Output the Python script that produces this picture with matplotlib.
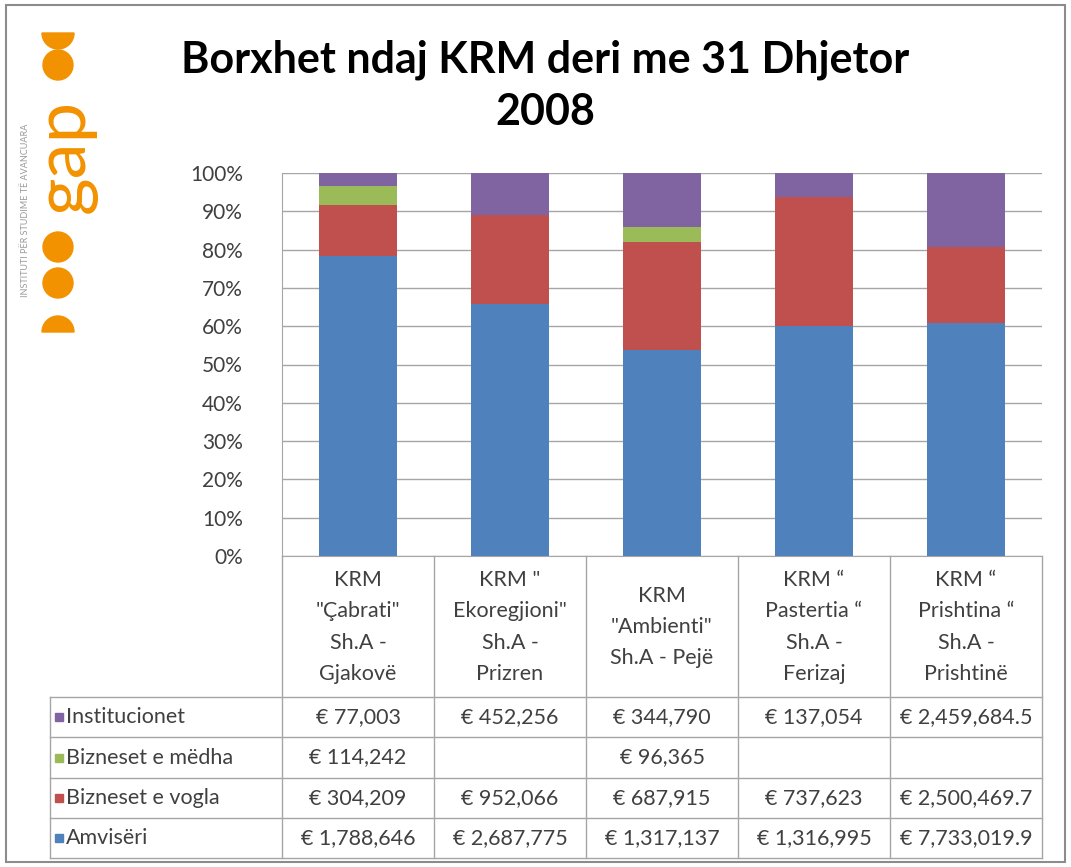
import matplotlib.pyplot as plt
from matplotlib.patches import Rectangle, Circle, Wedge
import numpy as np

# Data
companies = ['KRM\n"Çabrati"\nSh.A -\nGjakovë',
             'KRM "\nEkoregjioni"\nSh.A -\nPrizren',
             'KRM\n"Ambienti"\nSh.A - Pejë',
             'KRM “\nPastertia “\nSh.A -\nFerizaj',
             'KRM “\nPrishtina “\nSh.A -\nPrishtinë']
series = ['Amvisëri', 'Bizneset e vogla', 'Bizneset e mëdha', 'Institucionet']
amviseri = [1788646, 2687775, 1317137, 1316995, 7733019.9]
biz_vogla = [304209, 952066, 687915, 737623, 2500469.7]
biz_medha = [114242, None, 96365, None, None]
institucionet = [77003, 452256, 344790, 137054, 2459684.5]
colors = ['#4F81BD', '#C0504D', '#9BBB59', '#8064A2']

values = [amviseri, biz_vogla, biz_medha, institucionet]
arr = np.array([[v if v is not None else 0 for v in s] for s in values], dtype=float)
pct = arr / arr.sum(axis=0) * 100

W, H = 1071, 867
fig = plt.figure(figsize=(W / 100, H / 100), dpi=100)
plt.rcParams['font.family'] = ['Lato', 'DejaVu Sans']


def fx(px):
    return px / W


def fy(py):
    return 1 - py / H


# plot area
left, right, top, bottom = 282, 1042, 173, 556
ax = fig.add_axes([fx(left), fy(bottom), fx(right - left), (bottom - top) / H])
x = np.arange(len(companies))
base = np.zeros(len(companies))
for i, name in enumerate(series):
    ax.bar(x, pct[i], 0.51, bottom=base, color=colors[i], zorder=3)
    base += pct[i]
ax.set_xlim(-0.5, len(companies) - 0.5)
ax.set_ylim(0, 100)
ax.set_yticks(np.arange(0, 101, 10))
ax.set_yticklabels([f'{t}%' for t in range(0, 101, 10)], fontsize=15, color='#404040')
ax.set_xticks([])
ax.grid(axis='y', color='#A6A6A6', linewidth=1, zorder=0)
for s in ['top', 'right']:
    ax.spines[s].set_visible(False)
ax.spines['left'].set_color('#A6A6A6')
ax.spines['bottom'].set_color('#A6A6A6')
ax.tick_params(axis='y', length=0, pad=28)

# overlay in pixel coordinates for table, title, logo
ov = fig.add_axes([0, 0, 1, 1], zorder=5)
ov.set_xlim(0, W)
ov.set_ylim(H, 0)
ov.axis('off')
ov.patch.set_alpha(0)

ov.text(545, 60, 'Borxhet ndaj KRM deri me 31 Dhjetor', ha='center', va='center',
        fontsize=31, fontweight='bold', color='black')
ov.text(545, 112, '2008', ha='center', va='center',
        fontsize=31, fontweight='bold', color='black')

# outer border
ov.add_patch(Rectangle((6, 5), 1059, 857, fill=False, edgecolor='#8C8C8C', linewidth=1.5))

# data table
line_c = '#A6A6A6'
col_edges = np.linspace(left, right, len(companies) + 1)
row_edges = [697, 737, 778, 818, 858]
tcol = '#404040'
for xe in col_edges:
    ov.plot([xe, xe], [bottom, row_edges[-1]], color=line_c, lw=1)
ov.plot([50, 50], [row_edges[0], row_edges[-1]], color=line_c, lw=1)
for ye in row_edges:
    ov.plot([50, right], [ye, ye], color=line_c, lw=1)

for j, lab in enumerate(companies):
    cx = (col_edges[j] + col_edges[j + 1]) / 2
    ov.text(cx, 627, lab, ha='center', va='center', fontsize=15.5, color=tcol, linespacing=1.7)

rows = list(range(len(series)))[::-1]
for r, i in enumerate(rows):
    cy = (row_edges[r] + row_edges[r + 1]) / 2
    ov.add_patch(Rectangle((55, cy - 4), 8, 8, color=colors[i]))
    ov.text(66, cy, series[i], ha='left', va='center', fontsize=15.5, color=tcol)
    for j, v in enumerate(values[i]):
        if v is None:
            continue
        s = f'€ {v:,.1f}' if v != int(v) else f'€ {v:,.0f}'
        cx = (col_edges[j] + col_edges[j + 1]) / 2
        ov.text(cx, cy, s, ha='center', va='center', fontsize=15.5, color=tcol)

# logo
orange = '#F39200'
ov.add_patch(Wedge((58, 33), 16, 0, 180, color=orange))
ov.add_patch(Circle((58, 65), 15, color=orange))
ov.text(64, 156, 'gap', rotation=90, ha='center', va='center', fontsize=52,
        color=orange)
ov.add_patch(Circle((58, 247), 15, color=orange))
ov.add_patch(Circle((58, 283), 15, color=orange))
ov.add_patch(Wedge((58, 332), 16, 180, 360, color=orange))
ov.text(26, 210, 'INSTITUTI PËR STUDIME TË AVANCUARA', rotation=90, ha='center', va='center',
        fontsize=6.5, color='#999999')

plt.savefig('out.png', dpi=100)
